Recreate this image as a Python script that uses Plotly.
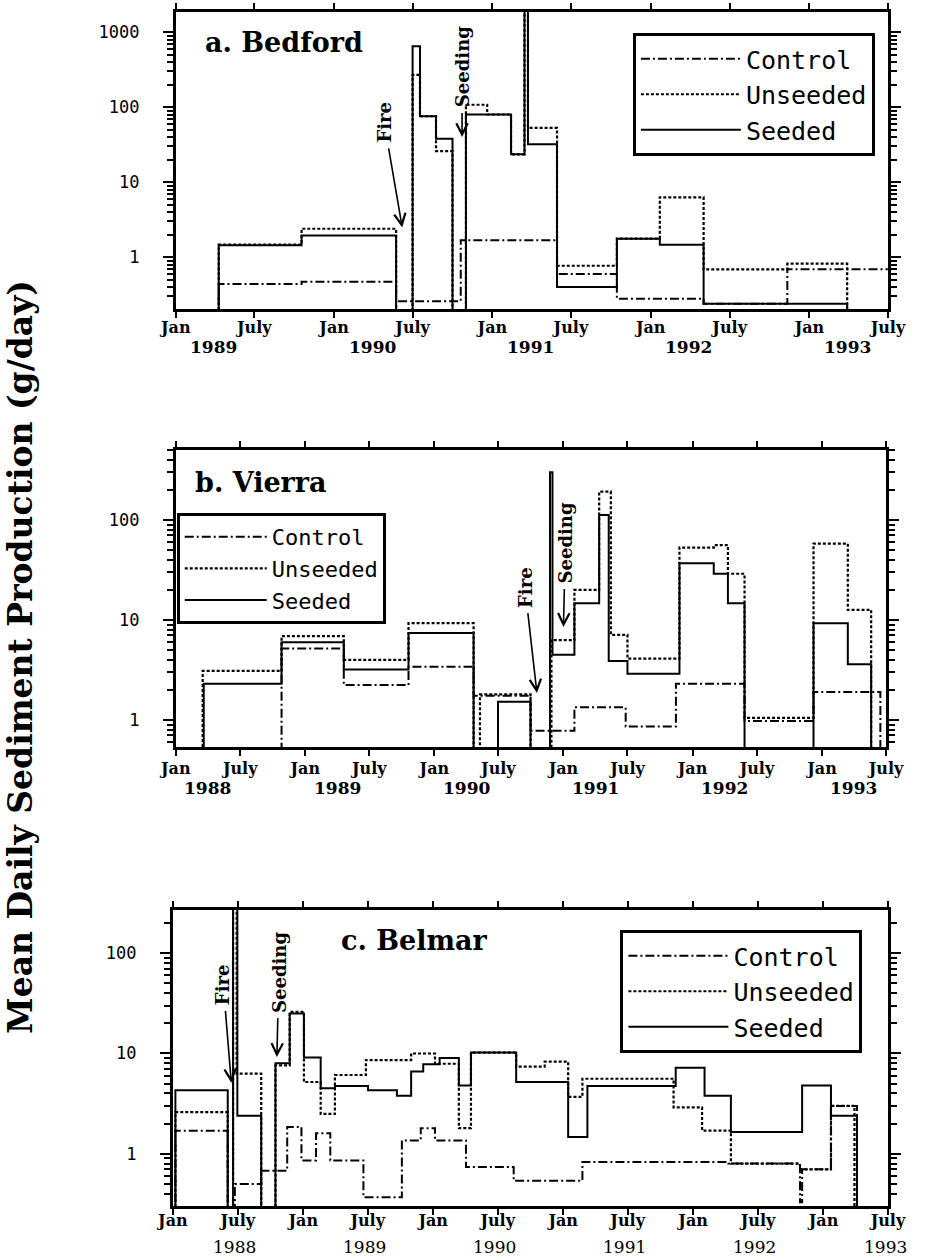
import plotly.graph_objects as go
import math
from datetime import date, timedelta

# ---------------- DATA (g/day; value holds from its date to the next date; 0 = nothing) -------------
# a. Bedford
A_CONTROL_X = ["1989-01-01", "1989-04-10", "1989-10-18", "1990-05-24", "1990-10-20", "1991-05-30",
               "1991-10-15", "1992-05-02", "1992-11-11", "1993-07-01"]
A_CONTROL_Y = [0, 0.44, 0.47, 0.26, 1.68, 0.60, 0.28, 0.24, 0.69]

A_UNSEEDED_X = ["1989-01-01", "1989-04-10", "1989-10-18", "1990-05-24", "1990-07-01", "1990-07-18",
                "1990-08-24", "1990-10-01", "1990-11-01", "1990-12-20", "1991-02-13", "1991-03-16",
                "1991-03-24", "1991-05-30", "1991-10-15", "1992-01-22", "1992-05-02", "1992-11-11",
                "1993-03-29", "1993-07-01"]
A_UNSEEDED_Y = [0, 1.47, 2.4, 0, 270, 76, 26, 0, 108, 80, 23.6, 2500, 53, 0.77, 1.77, 6.3, 0.69, 0.82, 0]

A_SEEDED_X = ["1989-01-01", "1989-04-10", "1989-10-18", "1990-05-24", "1990-07-01", "1990-07-18",
              "1990-08-24", "1990-10-01", "1990-11-01", "1991-02-13", "1991-03-16", "1991-03-24",
              "1991-05-30", "1991-10-15", "1992-01-22", "1992-05-02", "1993-03-29", "1993-07-01"]
A_SEEDED_Y = [0, 1.44, 1.95, 0, 650, 76, 38, 0, 80, 23.6, 2500, 32, 0.40, 1.77, 1.47, 0.24, 0]

# b. Vierra
B_CONTROL_X = ["1988-01-01", "1988-10-26", "1989-04-20", "1989-10-20", "1990-04-22", "1990-09-30",
               "1991-02-01", "1991-06-26", "1991-11-15", "1992-05-27", "1992-12-08", "1993-06-15",
               "1993-07-01"]
B_CONTROL_Y = [0, 5.2, 2.24, 3.4, 1.75, 0.78, 1.34, 0.86, 2.3, 0.98, 1.9, 0]

B_UNSEEDED_X = ["1988-01-01", "1988-03-17", "1988-10-26", "1989-04-20", "1989-10-20", "1990-04-22",
                "1990-05-10", "1990-09-30", "1990-11-28", "1991-02-01", "1991-04-12", "1991-05-15",
                "1991-07-01", "1991-11-25", "1992-03-01", "1992-04-10", "1992-05-27", "1992-12-08",
                "1993-03-15", "1993-05-20", "1993-07-01"]
B_UNSEEDED_Y = [0, 3.1, 6.9, 4.0, 9.3, 0, 1.8, 0, 6.3, 20, 192, 7.1, 4.1, 53, 56, 29, 1.05, 58, 12.6, 0]

B_SEEDED_X = ["1988-01-01", "1988-03-20", "1988-10-26", "1989-04-20", "1989-10-20", "1990-04-22",
              "1990-06-30", "1990-09-30", "1990-11-24", "1990-12-01", "1991-02-01", "1991-04-12",
              "1991-05-09", "1991-07-01", "1991-11-25", "1992-03-01", "1992-04-10", "1992-05-27",
              "1992-12-08", "1993-03-15", "1993-05-20", "1993-07-01"]
B_SEEDED_Y = [0, 2.3, 6.0, 3.2, 7.4, 0, 1.52, 0, 300, 4.5, 14.7, 112, 3.9, 2.9, 37, 29, 14.7, 0,
              9.3, 3.6, 0]

# c. Belmar
C_CONTROL_X = ["1988-01-01", "1988-01-08", "1988-06-03", "1988-06-23", "1988-09-05", "1988-11-17",
               "1988-12-27", "1989-02-06", "1989-03-18", "1989-06-19", "1989-10-05", "1989-11-27",
               "1990-01-06", "1990-04-03", "1990-08-15", "1991-02-24", "1992-04-09", "1992-10-27",
               "1992-11-02", "1993-01-22", "1993-04-05", "1993-07-01"]
C_CONTROL_Y = [0, 1.7, 0, 0.5, 0.68, 1.85, 0.86, 1.6, 0.86, 0.37, 1.36, 1.8, 1.36, 0.74, 0.54,
               0.83, 0.80, 0.33, 0.70, 3.0, 0]

C_UNSEEDED_X = ["1988-01-01", "1988-01-08", "1988-06-03", "1988-06-18", "1988-06-28", "1988-09-05",
                "1988-10-15", "1988-11-24", "1989-01-03", "1989-02-19", "1989-03-31", "1989-06-26",
                "1989-10-31", "1990-01-06", "1990-03-14", "1990-04-17", "1990-08-22", "1990-11-10",
                "1991-01-15", "1991-02-24", "1991-11-07", "1992-01-26", "1992-04-16", "1992-10-27",
                "1993-01-22", "1993-03-29", "1993-07-01"]
C_UNSEEDED_Y = [0, 2.6, 0, 300, 6.3, 0, 7.6, 26, 5.2, 2.5, 6.1, 8.6, 10, 7.9, 1.8, 10.2, 7.4, 8.3,
                3.7, 5.6, 2.9, 1.7, 0.8, 0.7, 3.0, 0]

C_SEEDED_X = ["1988-01-01", "1988-01-08", "1988-06-03", "1988-06-18", "1988-06-30", "1988-09-05",
              "1988-10-15", "1988-11-24", "1989-01-03", "1989-02-19", "1989-03-31", "1989-07-02",
              "1989-09-21", "1989-10-31", "1989-12-04", "1990-01-19", "1990-03-14", "1990-04-17",
              "1990-08-22", "1991-01-15", "1991-03-10", "1991-11-13", "1992-02-02", "1992-04-16",
              "1992-11-02", "1993-01-22", "1993-04-05", "1993-07-01"]
C_SEEDED_Y = [0, 4.3, 0, 300, 2.4, 0, 8.0, 25, 9.1, 4.5, 4.75, 4.3, 3.8, 6.6, 7.8, 9.0, 4.8, 10.2,
              5.2, 1.47, 4.75, 7.2, 3.8, 1.65, 4.8, 2.4, 0]

SERIES_NAMES = ["Control", "Unseeded", "Seeded"]
PANEL_TITLES = {"a": "a. Bedford", "b": "b. Vierra", "c": "c. Belmar"}
YEARS_A = [1989, 1990, 1991, 1992, 1993]
YEARS_BC = [1988, 1989, 1990, 1991, 1992, 1993]
Y_TICKS_A = [1, 10, 100, 1000]
Y_TICKS_BC = [1, 10, 100]
# event dates (Fire, Seeding) per panel and the level the arrows point at
EVENTS = {
    "a": [("Fire", "1990-06-07", 2.5), ("Seeding", "1990-10-23", 40)],
    "b": [("Fire", "1990-10-18", 1.86), ("Seeding", "1991-01-01", 8.5)],
    "c": [("Fire", "1988-06-13", 5.1), ("Seeding", "1988-10-19", 9.2)],
}
Y_TITLE = "Mean Daily Sediment Production (g/day)"

# ---------------- STYLE / LAYOUT ----------------
W, H = 930, 1260
FLOOR = 1e-3
SERIF = "DejaVu Serif"
MONO = "DejaVu Sans Mono"

STYLE = {
    "Control": dict(color="black", width=2, dash="9px,3px,2px,3px"),
    "Unseeded": dict(color="black", width=2.2, dash="3px,2px"),
    "Seeded": dict(color="black", width=2, dash="solid"),
}

# pixel boxes of the three panels: (left, right, top, bottom)
BOX = {"a": (165, 905, 12, 309), "b": (165, 903, 450, 747), "c": (162, 905, 910, 1206)}
XRANGE = {"a": ["1989-01-01", "1993-07-01"], "b": ["1988-01-01", "1993-07-01"],
          "c": ["1988-01-01", "1993-07-01"]}
YRANGE = {"a": [-0.69, 3.27], "b": [-0.27, 2.70], "c": [-0.52, 2.43]}
AX = {"a": ("x", "y", "xaxis", "yaxis", "legend"),
      "b": ("x2", "y2", "xaxis2", "yaxis2", "legend2"),
      "c": ("x3", "y3", "xaxis3", "yaxis3", "legend3")}
DATA = {
    "a": [(A_CONTROL_X, A_CONTROL_Y), (A_UNSEEDED_X, A_UNSEEDED_Y), (A_SEEDED_X, A_SEEDED_Y)],
    "b": [(B_CONTROL_X, B_CONTROL_Y), (B_UNSEEDED_X, B_UNSEEDED_Y), (B_SEEDED_X, B_SEEDED_Y)],
    "c": [(C_CONTROL_X, C_CONTROL_Y), (C_UNSEEDED_X, C_UNSEEDED_Y), (C_SEEDED_X, C_SEEDED_Y)],
}
LEGEND_POS = {"a": (640, 33), "b": (166, 513), "c": (627, 930)}
LEGEND_FONT = {"a": 25, "b": 22, "c": 25}
LEGEND_GAP = {"a": 5, "b": 0, "c": 0}
LEGEND_ITEMW = {"a": 100, "b": 82, "c": 100}
TITLE_POS = {"a": (193, 43), "b": (183, 483), "c": (335, 940)}
YEAR_POS = {"a": (88, 347), "b": (90, 788), "c": (173, 1247)}   # (days after Jan 1, pixel y)
YEAR_WEIGHT = {"a": "bold", "b": "bold", "c": "normal"}
XLABEL_STANDOFF = {"a": -4, "b": -1, "c": -8}
# text centre offsets (px) of the Fire / Seeding labels relative to the arrow tip
EVENT_OFFS = {"a": [(-18, -105), (0, -70)], "b": [(-12, -106), (2, -84)], "c": [(-8, -98), (2, -85)]}


def px(x):
    return x / W


def py(y):
    return 1 - y / H


def step(xs, ys):
    y = [v if v > 0 else FLOOR for v in ys]
    return xs, y + [y[-1]]


fig = go.Figure()
for key in ["a", "b", "c"]:
    xa, ya, _, _, leg = AX[key]
    for name, (xs, ys) in zip(SERIES_NAMES, DATA[key]):
        x, y = step(xs, ys)
        fig.add_trace(go.Scatter(
            x=x, y=y, mode="lines", line_shape="hv", line=STYLE[name], name=name,
            xaxis=xa, yaxis=ya, legend=leg, legendgroup=key + name, hoverinfo="skip"))

layout = dict(width=W, height=H, margin=dict(l=0, r=0, t=0, b=0), paper_bgcolor="white",
              plot_bgcolor="white", showlegend=True)
annotations = []
for key in ["a", "b", "c"]:
    xa, ya, xname, yname, leg = AX[key]
    l, r, t, b = BOX[key]
    y0 = int(XRANGE[key][0][:4])
    xt, xl = [], []
    yr = y0
    while f"{yr}-01-01" <= XRANGE[key][1]:
        for m, lab in ((1, "Jan"), (7, "July")):
            d = f"{yr}-{m:02d}-01"
            if d <= XRANGE[key][1]:
                xt.append(d)
                xl.append(lab)
        yr += 1
    layout[xname] = dict(
        domain=[px(l), px(r)], range=XRANGE[key], type="date", anchor=ya,
        tickmode="array", tickvals=xt, ticktext=xl, ticks="outside", ticklen=6, tickwidth=2,
        tickcolor="black", showline=True, linewidth=3, linecolor="black", mirror="allticks",
        showgrid=False, zeroline=False, ticklabelstandoff=XLABEL_STANDOFF[key],
        tickfont=dict(family=SERIF, size=16, color="black", weight="bold"))
    yt = Y_TICKS_A if key == "a" else Y_TICKS_BC
    lo, hi = YRANGE[key]
    minor_vals = [m * 10 ** e for e in range(math.floor(lo) - 1, math.ceil(hi) + 1)
                  for m in range(2, 10) if lo <= math.log10(m * 10 ** e) <= hi]
    layout[yname] = dict(
        domain=[py(b), py(t)], range=YRANGE[key], type="log", anchor=xa,
        tickmode="array", tickvals=yt, ticktext=[str(v) for v in yt], ticks="outside",
        ticklen=10, tickwidth=2, tickcolor="black", showline=True, linewidth=3, linecolor="black",
        mirror="allticks", showgrid=False, zeroline=False, ticklabelstandoff=20,
        minor=dict(ticks="outside", ticklen=6, tickwidth=1.5, tickcolor="black",
                   tickmode="array", tickvals=minor_vals, showgrid=False),
        tickfont=dict(family=MONO, size=17, color="black"))
    lx, ly = LEGEND_POS[key]
    layout[leg] = dict(
        x=px(lx), y=py(ly), xanchor="left", yanchor="top", xref="paper", yref="paper",
        bgcolor="white", bordercolor="black", borderwidth=3, traceorder="normal",
        tracegroupgap=LEGEND_GAP[key], itemwidth=LEGEND_ITEMW[key], itemclick=False,
        font=dict(family=MONO, size=LEGEND_FONT[key], color="black"))
    # panel title
    tx, ty = TITLE_POS[key]
    annotations.append(dict(text=PANEL_TITLES[key], x=px(tx), y=py(ty), xref="paper", yref="paper",
                            xanchor="left", yanchor="middle", showarrow=False,
                            font=dict(family=SERIF, size=27, color="black", weight="bold")))
    # year labels
    off, yy = YEAR_POS[key]
    for yrv in (YEARS_A if key == "a" else YEARS_BC):
        d = (date(yrv, 1, 1) + timedelta(days=off)).isoformat()
        annotations.append(dict(text=str(yrv), x=d, xref=xa, y=py(yy), yref="paper",
                                showarrow=False, xanchor="center", yanchor="middle",
                                font=dict(family=SERIF, size=17, color="black",
                                          weight=YEAR_WEIGHT[key])))
    # Fire / Seeding arrows
    for (label, d, lev), (ox, oy) in zip(EVENTS[key], EVENT_OFFS[key]):
        annotations.append(dict(text=label, x=d, y=math.log10(lev), xref=xa, yref=ya,
                                showarrow=True, arrowhead=5, arrowsize=1.4, arrowwidth=1.6,
                                arrowcolor="black", ax=ox, ay=oy, textangle=-90, borderpad=5,
                                standoff=0,
                                font=dict(family=SERIF, size=18, color="black", weight="bold")))

annotations.append(dict(text=Y_TITLE, x=px(3), y=py(657), xref="paper", yref="paper",
                        textangle=-90, showarrow=False, xanchor="center", yanchor="middle",
                        font=dict(family=SERIF, size=33, color="black", weight="bold")))
layout["annotations"] = annotations
fig.update_layout(**layout)
fig.write_html("out.html")
